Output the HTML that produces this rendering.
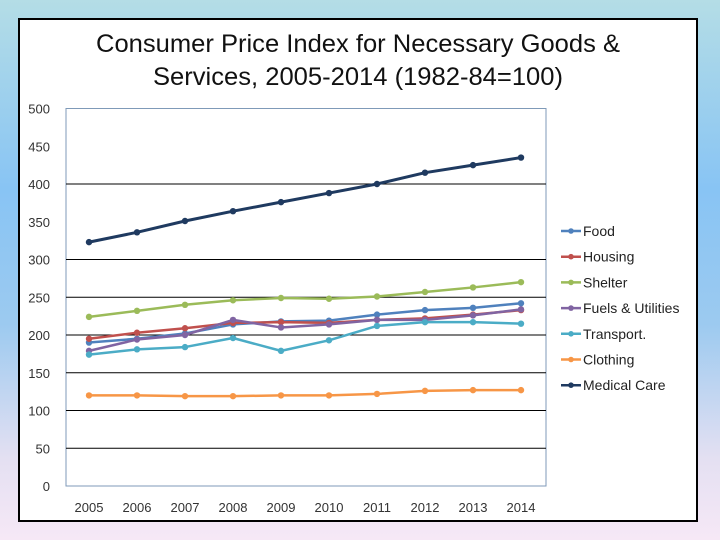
<!DOCTYPE html>
<html><head><meta charset="utf-8"><style>
html,body{margin:0;padding:0}
body{width:720px;height:540px;overflow:hidden;background:linear-gradient(180deg,#b4dde6 0%,#88c4f4 35%,#9ccaf0 60%,#e4e0f2 85%,#f6e8f6 100%);font-family:"Liberation Sans",sans-serif}
#panel{position:absolute;left:18px;top:18px;width:676px;height:500px;background:#fff;border:2px solid #000}
svg{position:absolute;left:0;top:0}
</style></head><body>
<div id="panel"></div>
<svg id="chart" width="720" height="540">
<text x="358" y="52" text-anchor="middle" font-size="25" fill="#111" textLength="524" lengthAdjust="spacingAndGlyphs">Consumer Price Index for Necessary Goods &amp;</text>
<text x="358" y="85" text-anchor="middle" font-size="25" fill="#111" textLength="410" lengthAdjust="spacingAndGlyphs">Services, 2005-2014 (1982-84=100)</text>
<g id="grid"></g><g id="axes"></g><g id="series"></g><g id="legend"></g>
</svg>
<script>
const years=["2005","2006","2007","2008","2009","2010","2011","2012","2013","2014"];
const yTicks=[0,50,100,150,200,250,300,350,400,450,500];
const gridVals=[50,100,150,200,250,300,400];
const seriesNames=["Food","Housing","Shelter","Fuels & Utilities","Transport.","Clothing","Medical Care"];
const seriesColors=["#4f81bd","#c0504d","#9bbb59","#8064a2","#4bacc6","#f79646","#1f3a60"];
const food=[190,195,202,214,218,219,227,233,236,242];
const housing=[195,203,209,216,217,216,220,222,227,233];
const shelter=[224,232,240,246,249,248,251,257,263,270];
const fuels=[179,194,200,220,210,214,220,220,226,234];
const transport=[174,181,184,196,179,193,212,217,217,215];
const clothing=[120,120,119,119,120,120,122,126,127,127];
const medical=[323,336,351,364,376,388,400,415,425,435];
const allSeries=[food,housing,shelter,fuels,transport,clothing,medical];
const NS="http://www.w3.org/2000/svg";
const L=66,R=546,T=108.5,B=486;
function y(v){return B-(v/500)*(B-T);}
function x(i){return 89+i*(521-89)/(years.length-1);}
function mk(tag,attrs,parent){const e=document.createElementNS(NS,tag);for(const k in attrs)e.setAttribute(k,attrs[k]);parent.appendChild(e);return e;}
const grid=document.getElementById('grid'),axes=document.getElementById('axes'),ser=document.getElementById('series'),leg=document.getElementById('legend');
const frame=mk('rect',{x:L,y:T,width:R-L,height:B-T,fill:'none',stroke:'#7f9ab8','stroke-width':1},grid);


gridVals.forEach(v=>{const l=mk('line',{x1:L,x2:R,y1:y(v),y2:y(v),stroke:'#000','stroke-width':1},grid);

});
yTicks.forEach(v=>{const t=mk('text',{x:50,y:y(v)+5,'text-anchor':'end','font-size':13,fill:'#333'},axes);t.textContent=v;

});
years.forEach((yr,i)=>{const t=mk('text',{x:x(i),y:512,'text-anchor':'middle','font-size':13,fill:'#333'},axes);t.textContent=yr;

});
allSeries.forEach((d,s)=>{const g=mk('g',{},ser);


const pts=d.map((v,i)=>x(i)+','+y(v)).join(' ');
mk('polyline',{points:pts,fill:'none',stroke:seriesColors[s],'stroke-width':s==6?3:2.5,'stroke-linejoin':'round'},g);
d.forEach((v,i)=>{const c=mk('circle',{cx:x(i),cy:y(v),r:3.2,fill:seriesColors[s]},g);

});
const ly=231+s*25.7;
const le=mk('g',{},leg);


mk('line',{x1:561,x2:581,y1:ly,y2:ly,stroke:seriesColors[s],'stroke-width':2.5},le);
mk('circle',{cx:571,cy:ly,r:2.8,fill:seriesColors[s]},le);
const t=mk('text',{x:583,y:ly+5,'font-size':14,fill:'#222'},le);t.textContent=seriesNames[s];});
</script>
</body></html>
